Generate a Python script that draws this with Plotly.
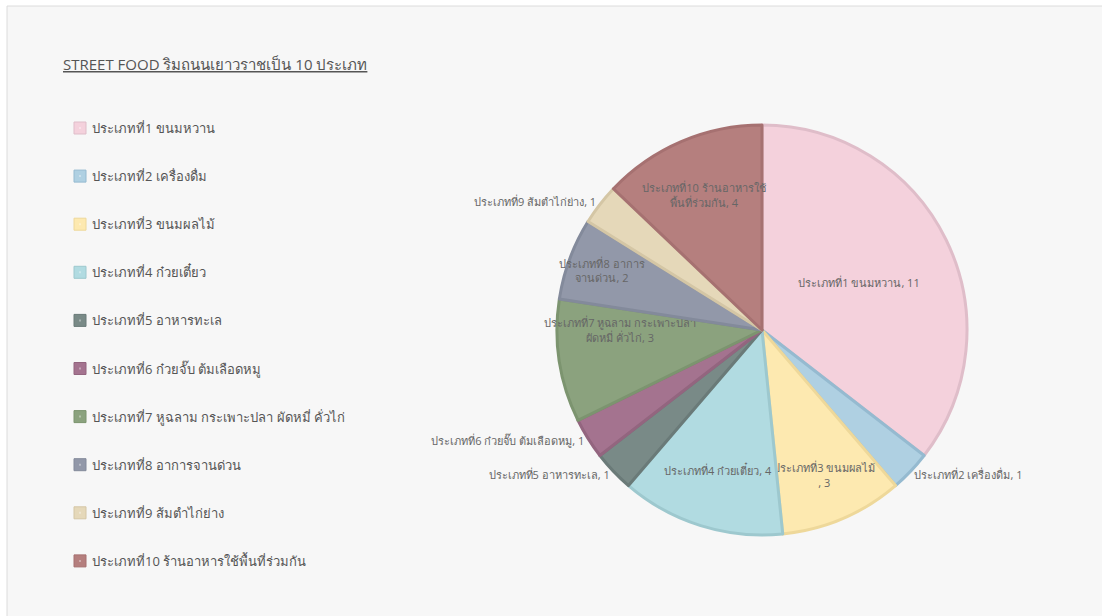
import plotly.graph_objects as go

labels = [
    "ประเภทที่1 ขนมหวาน",
    "ประเภทที่2 เครื่องดื่ม",
    "ประเภทที่3 ขนมผลไม้",
    "ประเภทที่4 ก๋วยเตี๋ยว",
    "ประเภทที่5 อาหารทะเล",
    "ประเภทที่6 ก๋วยจั๊บ ต้มเลือดหมู",
    "ประเภทที่7 หูฉลาม กระเพาะปลา ผัดหมี่ คั่วไก่",
    "ประเภทที่8 อาการจานด่วน",
    "ประเภทที่9 ส้มตำไก่ย่าง",
    "ประเภทที่10 ร้านอาหารใช้พื้นที่ร่วมกัน",
]
values = [11, 1, 3, 4, 1, 1, 3, 2, 1, 4]
slice_text = [
    "ประเภทที่1 ขนมหวาน, 11",
    "ประเภทที่2 เครื่องดื่ม, 1",
    "ประเภทที่3 ขนมผลไม้<br>, 3",
    "ประเภทที่4 ก๋วยเตี๋ยว, 4",
    "ประเภทที่5 อาหารทะเล, 1",
    "ประเภทที่6 ก๋วยจั๊บ ต้มเลือดหมู, 1",
    "ประเภทที่7 หูฉลาม กระเพาะปลา<br>ผัดหมี่ คั่วไก่, 3",
    "ประเภทที่8 อาการ<br>จานด่วน, 2",
    "ประเภทที่9 ส้มตำไก่ย่าง, 1",
    "ประเภทที่10 ร้านอาหารใช้<br>พื้นที่ร่วมกัน, 4",
]
text_pos = ["inside", "outside", "inside", "inside", "outside",
            "outside", "inside", "inside", "outside", "inside"]
fill_colors = ["#f4d1dc", "#afd0e2", "#fde9b0", "#b1dbe1", "#798a87",
               "#a4738f", "#8ba27e", "#9298a9", "#e5d8b9", "#b57f7e"]
line_colors = ["#dfbdc9", "#95bad0", "#eed89a", "#9dc8ce", "#6a7a78",
               "#93657f", "#7c946f", "#838a9b", "#d4c6a5", "#a67171"]
title_text = "STREET FOOD ริมถนนเยาวราชเป็น 10 ประเภท"

W, H = 1102, 616
FONT = "Open Sans, Noto Sans, sans-serif"

fig = go.Figure()
fig.add_trace(go.Pie(
    labels=labels,
    values=values,
    text=slice_text,
    textinfo="text",
    textposition=text_pos,
    insidetextorientation="horizontal",
    sort=False,
    direction="clockwise",
    rotation=0,
    marker=dict(colors=fill_colors, line=dict(color=line_colors, width=3)),
    textfont=dict(family=FONT, size=11, color="#666666"),
    domain=dict(x=[(762 - 205) / W, (762 + 205) / W],
                y=[(H - 535) / H, (H - 125) / H]),
    showlegend=False,
    hoverinfo="label+value",
))

shapes = [dict(type="rect", xref="paper", yref="paper",
               x0=7 / W, x1=1.01, y0=-0.01, y1=1 - 6 / H,
               fillcolor="#f7f7f7", line=dict(color="#dcdcdc", width=1),
               layer="below")]
annotations = [dict(text="<u>" + title_text + "</u>", xref="paper", yref="paper",
                    x=61 / W, y=1 - 64 / H, xanchor="left", yanchor="middle",
                    showarrow=False, font=dict(family=FONT, size=15, color="#555555"))]

y0, gap = 128, 48.1
for i, (lab, fc, lc) in enumerate(zip(labels, fill_colors, line_colors)):
    yc = y0 + i * gap
    shapes.append(dict(type="rect", xref="paper", yref="paper",
                       x0=74 / W, x1=86 / W, y0=1 - (yc + 6) / H, y1=1 - (yc - 6) / H,
                       fillcolor=fc, line=dict(color=lc, width=1)))
    shapes.append(dict(type="rect", xref="paper", yref="paper",
                       x0=79 / W, x1=81 / W, y0=1 - (yc + 1) / H, y1=1 - (yc - 1) / H,
                       fillcolor="rgba(255,255,255,0.35)", line=dict(width=0)))
    annotations.append(dict(text=lab, xref="paper", yref="paper",
                            x=90 / W, y=1 - yc / H, xanchor="left", yanchor="middle",
                            showarrow=False,
                            font=dict(family=FONT, size=13, color="#555555")))

fig.update_layout(
    width=W, height=H,
    margin=dict(l=0, r=0, t=0, b=0),
    paper_bgcolor="#ffffff",
    plot_bgcolor="#f7f7f7",
    shapes=shapes,
    annotations=annotations,
    font=dict(family=FONT),
    uniformtext=dict(minsize=11, mode="show"),
)

fig.write_html("out.html")
